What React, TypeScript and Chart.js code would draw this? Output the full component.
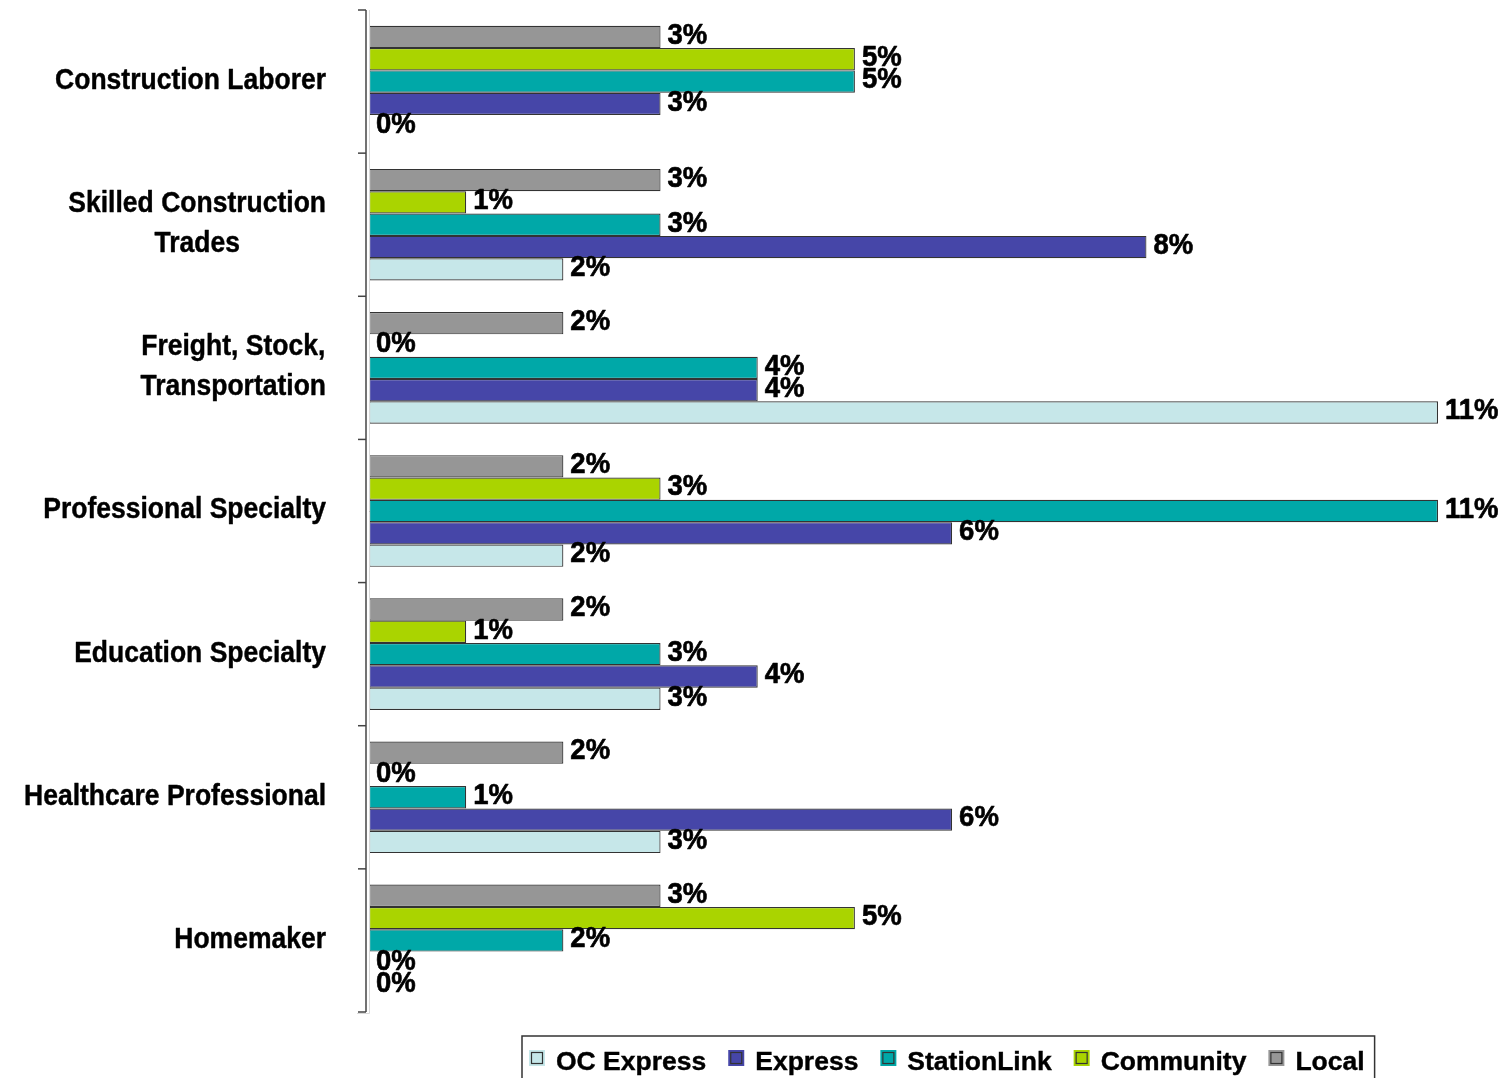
import React, { useEffect, useRef } from "react";
import { Chart, registerables } from "chart.js";

Chart.register(...registerables);

// ---- data ----
const categories: string[][] = [
  ["Construction Laborer"],
  ["Skilled Construction", "Trades"],
  ["Freight, Stock,", "Transportation"],
  ["Professional Specialty"],
  ["Education Specialty"],
  ["Healthcare Professional"],
  ["Homemaker"],
];
const seriesNames = ["Local", "Community", "StationLink", "Express", "OC Express"];
const localValues = [3, 3, 2, 2, 2, 2, 3];
const communityValues = [5, 1, 0, 3, 1, 0, 5];
const stationLinkValues = [5, 3, 4, 11, 3, 1, 2];
const expressValues = [3, 8, 4, 6, 4, 6, 0];
const ocExpressValues = [0, 2, 11, 2, 3, 3, 0];
const seriesColors = ["#969696", "#AAD400", "#00A8A8", "#4646A8", "#C6E7E9"];
const axisMax = 11;

const FONT = "'Liberation Sans', Arial, Helvetica, sans-serif";
const CAP = 0.716;

function drawStretched(
  ctx: CanvasRenderingContext2D,
  text: string,
  x: number,
  capCenterY: number,
  size: number,
  sy: number,
  align: CanvasTextAlign,
  embolden: number
) {
  ctx.save();
  ctx.translate(x, capCenterY);
  ctx.scale(1, sy);
  ctx.textAlign = align;
  ctx.textBaseline = "alphabetic";
  ctx.fillText(text, 0, (CAP * size) / 2);
  if (embolden > 0) {
    ctx.lineWidth = embolden;
    ctx.strokeStyle = ctx.fillStyle as string;
    ctx.lineJoin = "round";
    ctx.strokeText(text, 0, (CAP * size) / 2);
  }
  ctx.restore();
}

const overlayPlugin = {
  id: "overlay",
  afterDatasetsDraw(chart: any) {
    const ctx: CanvasRenderingContext2D = chart.ctx;
    const size = 27.5;
    ctx.save();
    ctx.fillStyle = "#000";
    ctx.font = `bold ${size}px ${FONT}`;
    chart.data.datasets.forEach((ds: any, di: number) => {
      const meta = chart.getDatasetMeta(di);
      meta.data.forEach((bar: any, i: number) => {
        const v = ds.data[i];
        drawStretched(ctx, `${v}%`, bar.x + 7, bar.y - 4, size, 1.1, "left", 0.6);
      });
    });
    ctx.restore();
  },
  afterDraw(chart: any) {
    const ctx: CanvasRenderingContext2D = chart.ctx;
    const { left, top, bottom } = chart.chartArea;
    const yScale = chart.scales.y;
    const n = chart.data.labels.length;

    // axis line and tick marks
    ctx.save();
    ctx.strokeStyle = "#444";
    ctx.lineWidth = 1.5;
    const ax = left - 3;
    ctx.beginPath();
    ctx.moveTo(ax, top);
    ctx.lineTo(ax, bottom);
    ctx.stroke();
    for (let i = 0; i <= n; i++) {
      const y = yScale.getPixelForValue(i - 0.5);
      ctx.beginPath();
      ctx.moveTo(ax - 8, y);
      ctx.lineTo(ax, y);
      ctx.stroke();
    }
    // faint plot-area edge
    ctx.strokeStyle = "#d9d9d9";
    ctx.lineWidth = 1;
    ctx.beginPath();
    ctx.moveTo(left + 0.5, top);
    ctx.lineTo(left + 0.5, bottom + 1.5);
    ctx.lineTo(ax - 9, bottom + 1.5);
    ctx.stroke();
    ctx.restore();

    // category labels
    const catSize = 26.5;
    const lineH = 40;
    const rightEdge = left - 43;
    ctx.save();
    ctx.fillStyle = "#000";
    ctx.font = `bold ${catSize}px ${FONT}`;
    chart.data.labels.forEach((lab: string[] | string, i: number) => {
      const lines = Array.isArray(lab) ? lab : [lab];
      const maxW = Math.max(...lines.map((l) => ctx.measureText(l).width));
      const cx = rightEdge - maxW / 2;
      const cy = yScale.getPixelForValue(i) - 3;
      lines.forEach((line, j) => {
        const y = cy + (j - (lines.length - 1) / 2) * lineH;
        drawStretched(ctx, line, cx, y, catSize, 1.1, "center", 0.4);
      });
    });
    ctx.restore();

    // legend (reverse order of datasets)
    const legSize = 26.5;
    const boxLeft = 514;
    const boxTop = 1028;
    const capCenter = 1053;
    const markerCenter = 1050;
    ctx.save();
    ctx.font = `bold ${legSize}px ${FONT}`;
    let x = boxLeft + 7;
    const items = [...chart.data.datasets].reverse();
    let lastEnd = x;
    items.forEach((ds: any) => {
      ctx.fillStyle = ds.backgroundColor;
      ctx.fillRect(x, markerCenter - 8, 16, 16);
      ctx.strokeStyle = "#333";
      ctx.lineWidth = 1.2;
      ctx.strokeRect(x + 2.5, markerCenter - 5.5, 11, 11);
      ctx.fillStyle = "#000";
      ctx.textAlign = "left";
      ctx.textBaseline = "alphabetic";
      const tx = x + 27;
      ctx.fillText(ds.label, tx, capCenter + (CAP * legSize) / 2);
      ctx.lineWidth = 0.4;
      ctx.strokeStyle = "#000";
      ctx.strokeText(ds.label, tx, capCenter + (CAP * legSize) / 2);
      const w = ctx.measureText(ds.label).width;
      lastEnd = tx + w;
      x = lastEnd + 22;
    });
    ctx.strokeStyle = "#333";
    ctx.lineWidth = 1.5;
    ctx.strokeRect(boxLeft, boxTop, lastEnd + 10 - boxLeft, 80);
    ctx.restore();
  },
};

export default function App() {
  const canvasRef = useRef<HTMLCanvasElement | null>(null);

  useEffect(() => {
    const canvas = canvasRef.current;
    if (!canvas) return;
    const valueSets = [localValues, communityValues, stationLinkValues, expressValues, ocExpressValues];
    const datasets = seriesNames.map((name, i) => ({
      label: name,
      data: valueSets[i],
      backgroundColor: seriesColors[i],
      borderColor: "#333333",
      borderWidth: 1.2,
      borderSkipped: false,
      categoryPercentage: 0.78,
      barPercentage: 1.0,
    }));
    const chart = new Chart(canvas, {
      type: "bar",
      data: { labels: categories as any, datasets: datasets as any },
      options: {
        indexAxis: "y",
        animation: false,
        responsive: false,
        layout: { padding: { left: 361, right: 66, top: 2, bottom: 66 } },
        scales: {
          x: { display: false, min: 0, max: axisMax },
          y: { display: false, grid: { display: false } },
        },
        plugins: {
          legend: { display: false },
          tooltip: { enabled: false },
        },
      },
      plugins: [overlayPlugin as any],
    });
    return () => chart.destroy();
  }, []);

  return (
    <div style={{ position: "relative", width: 1496, height: 1070 }}>
      <span
        style={{
          position: "absolute",
          top: -21,
          left: -8,
          fontFamily: FONT,
          fontSize: 20,
          lineHeight: "23px",
          letterSpacing: 10,
          color: "#C9AE86",
          whiteSpace: "nowrap",
        }}
      >
        ERS
      </span>
      <canvas ref={canvasRef} width={1496} height={1070} style={{ display: "block" }} />
    </div>
  );
}
